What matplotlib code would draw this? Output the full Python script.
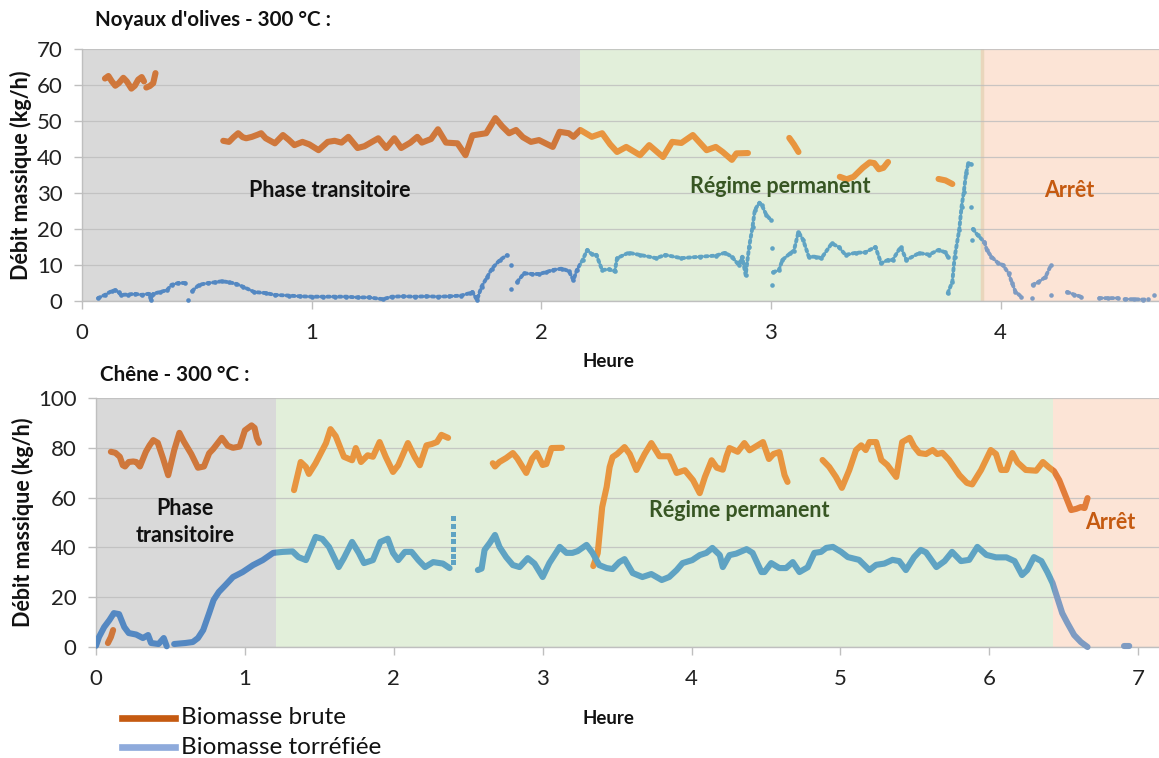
import numpy as np
import matplotlib
matplotlib.use("Agg")
import matplotlib.pyplot as plt
from matplotlib.patches import Rectangle
from matplotlib.lines import Line2D

plt.rcParams['font.family'] = ['Lato', 'DejaVu Sans']

nan = np.nan

# ---------------- Data: Noyaux d'olives ----------------
olive_brute_x = [0.10, nan,
                 0.10, 0.115, 0.13, 0.145, 0.16, 0.18, 0.195, 0.215, 0.23, 0.245, 0.26, 0.27, nan,
                 0.28, 0.295, 0.31, 0.32, nan,
                 0.615, 0.64, 0.66, 0.68, 0.70, 0.715, 0.74, 0.765, 0.78, 0.80, 0.84, 0.875, 0.90, 0.925,
                 0.96, 0.99, 1.03, 1.07, 1.10, 1.13, 1.16, 1.20, 1.23, 1.29, 1.325, 1.36, 1.39, 1.43, 1.46,
                 1.48, 1.52, 1.55, 1.585, 1.635, 1.67, 1.70, 1.76, 1.80, 1.83, 1.86, 1.89, 1.92, 1.955,
                 1.99, 2.05, 2.08, 2.12, 2.14, 2.17, 2.22, 2.265, 2.30, 2.33, 2.37, 2.43, 2.47, 2.53,
                 2.57, 2.61, 2.66, 2.72, 2.76, 2.79, 2.83, 2.85, 2.90, nan,
                 3.08, 3.10, 3.12, nan,
                 3.30, 3.33, 3.36, 3.40, 3.43, 3.45, 3.47, 3.49, 3.51, nan,
                 3.73, 3.76, 3.79]
olive_brute_y = [23.0, nan,
                 61.8, 62.5, 61.0, 59.8, 60.5, 62.0, 61.0, 59.0, 59.8, 61.5, 62.2, 61.0, nan,
                 59.3, 59.7, 60.5, 63.3, nan,
                 44.5, 44.2, 45.5, 46.6, 45.5, 45.2, 45.6, 46.2, 46.6, 45.2, 43.8, 46.1, 44.8, 43.3,
                 44.2, 43.5, 41.9, 44.2, 44.5, 44.0, 45.6, 42.5, 43.0, 45.2, 42.5, 45.2, 42.5, 44.0, 45.6,
                 44.0, 45.0, 47.7, 44.0, 43.8, 40.5, 46.0, 46.6, 50.8, 48.5, 46.6, 47.5, 45.5, 44.2,
                 44.7, 42.8, 47.0, 46.6, 45.6, 47.5, 45.6, 46.6, 43.5, 41.4, 42.8, 40.5, 43.3, 40.0,
                 44.2, 43.9, 46.1, 41.9, 42.8, 41.4, 39.2, 41.0, 41.1, nan,
                 45.3, 43.5, 41.4, nan,
                 34.5, 33.8, 34.5, 37.0, 38.5, 38.3, 36.6, 37.0, 38.6, nan,
                 33.9, 33.5, 32.5]

olive_torr_x = [0.07, 0.10, 0.13, 0.145, 0.16, 0.17, 0.20, 0.23, 0.26, 0.29, 0.30, 0.31, 0.34, 0.37,
                0.39, 0.42, 0.45, nan, 0.46, nan, 0.48, 0.51, 0.55, 0.58, 0.61, 0.64, 0.67, 0.70, 0.75,
                0.80, 0.84, 0.90, 0.95, 1.00, 1.05, 1.10, 1.15, 1.20, 1.25, 1.31, 1.35, 1.40, 1.45,
                1.50, 1.55, 1.60, 1.65, 1.69, 1.70, 1.72, 1.74, 1.765, 1.785, 1.82, 1.85, nan,
                1.87, nan, 1.87, nan,
                1.895, 1.925, 1.96, 1.99, 2.02, 2.05, 2.09, 2.12, 2.14, 2.155, 2.18, 2.20, 2.22, 2.24,
                2.265, 2.295, 2.32, 2.33, 2.38, 2.43, 2.50, 2.54, 2.61, 2.69, 2.76, 2.80, 2.83, 2.86,
                2.875, 2.89, 2.905, 2.92, 2.93, 2.95, 2.96, 2.98, 3.00, nan,
                3.005, nan, 3.005, nan,
                3.01, 3.035, 3.05, 3.085, 3.10, 3.12, 3.14, 3.165, 3.195, 3.22, 3.265, 3.295, 3.325,
                3.37, 3.41, 3.455, 3.48, 3.51, 3.53, 3.565, 3.59, 3.645, 3.69, 3.73, 3.76, 3.77, nan,
                3.77, 3.79, 3.80, 3.82, 3.83, 3.84, 3.85, 3.86, 3.87, nan,
                3.87, nan, 3.875, nan,
                3.88, 3.90, 3.93, 3.94, 3.96, 3.99, 4.01, 4.035, 4.05, 4.065, 4.09, nan,
                4.135, nan, 4.14, 4.165, 4.195, 4.22, nan, 4.22, nan,
                4.29, 4.32, 4.35, nan, 4.43, 4.47, 4.51, nan, 4.54, 4.58, 4.62, 4.64, nan, 4.67]
olive_torr_y = [0.8, 1.7, 2.8, 3.0, 2.4, 1.7, 1.8, 2.0, 1.7, 2.0, 0.4, 2.0, 2.5, 3.0,
                4.5, 5.0, 5.0, nan, 0.2, nan, 2.8, 4.5, 5.0, 5.2, 5.5, 5.2, 4.8, 4.0, 2.5,
                2.2, 1.7, 1.5, 1.3, 1.2, 1.2, 1.2, 1.2, 1.0, 1.0, 0.5, 1.2, 1.3, 1.2,
                1.3, 1.2, 1.3, 1.5, 2.2, 2.5, 0.3, 4.0, 6.7, 9.0, 11.4, 12.7, nan,
                10.0, nan, 3.3, nan,
                5.3, 7.7, 7.5, 7.5, 8.0, 8.6, 9.0, 8.3, 5.8, 8.6, 11.4, 14.2, 13.0, 12.8,
                8.6, 8.8, 8.2, 11.9, 13.4, 12.8, 11.9, 12.8, 11.9, 12.3, 12.6, 13.4, 12.3, 10.0,
                12.3, 7.2, 15.0, 20.6, 25.3, 27.3, 26.7, 23.9, 22.5, nan,
                14.7, nan, 4.4, nan,
                8.0, 8.6, 11.4, 13.3, 14.0, 19.2, 17.0, 12.3, 12.3, 11.9, 16.0, 15.0, 12.8,
                13.4, 13.5, 15.0, 10.5, 11.4, 11.4, 15.0, 11.4, 13.3, 12.9, 14.2, 13.5, 12.3, nan,
                2.2, 5.3, 12.2, 19.7, 26.1, 30.3, 35.5, 38.3, 38.0, nan,
                26.0, nan, 17.0, nan,
                20.0, 18.3, 16.4, 14.2, 12.3, 10.5, 10.0, 7.7, 5.0, 2.6, 1.2, nan,
                0.8, nan, 4.5, 5.3, 6.6, 10.0, nan, 1.6, nan,
                2.5, 1.8, 1.2, nan, 0.8, 0.8, 0.8, nan, 0.5, 0.5, 0.4, 0.5, nan, 1.6]

# ---------------- Data: Chêne ----------------
chene_brute_x = [0.08, 0.10, 0.115, nan,
                 0.10, 0.13, 0.16, 0.18, 0.195, 0.22, 0.25, 0.27, 0.295, 0.335, 0.36, 0.385, 0.415,
                 0.45, 0.485, 0.525, 0.56, 0.59, 0.64, 0.685, 0.725, 0.76, 0.787, 0.845, 0.885, 0.92,
                 0.965, 1.0, 1.045, 1.065, 1.08, 1.095, nan,
                 1.33, 1.375, 1.41, 1.43, 1.475, 1.545, 1.575, 1.61, 1.665, 1.72, 1.745, 1.78, 1.825,
                 1.86, 1.905, 1.945, 1.995, 2.03, 2.095, 2.14, 2.175, 2.22, 2.255, 2.29, 2.32, 2.365, nan,
                 2.545, nan,
                 2.665, 2.68, 2.71, 2.755, 2.80, 2.83, 2.89, 2.93, 2.96, 3.0, 3.025, 3.06, 3.13, nan,
                 3.34, 3.37, 3.39, 3.40, 3.43, 3.45, 3.47, 3.50, 3.55, 3.585, 3.63, 3.685, 3.73, 3.785,
                 3.85, 3.90, 3.955, 4.01, 4.055, 4.09, 4.135, 4.17, 4.21, 4.235, 4.255, 4.31, 4.355,
                 4.39, 4.445, 4.48, 4.52, 4.55, 4.59, 4.625, 4.645, nan,
                 4.88, 4.925, 4.97, 5.01, 5.06, 5.105, 5.14, 5.17, 5.195, 5.24, 5.275, 5.315, 5.375,
                 5.415, 5.465, 5.495, 5.53, 5.575, 5.62, 5.65, 5.685, 5.73, 5.80, 5.85, 5.885, 5.945,
                 6.01, 6.045, 6.08, 6.115, 6.155, 6.19, 6.245, 6.315, 6.36, 6.40, 6.435, 6.47, 6.515,
                 6.55, 6.585, 6.615, 6.64, 6.66]
chene_brute_y = [1.6, 4.0, 6.8, nan,
                 78.4, 78.0, 76.4, 73.0, 72.5, 74.3, 74.5, 74.3, 72.5, 78.4, 81.0, 83.1, 82.0,
                 75.8, 69.0, 79.0, 86.0, 82.5, 77.5, 72.0, 72.5, 77.8, 79.5, 84.0, 80.8, 80.0,
                 80.5, 87.0, 89.0, 88.0, 84.0, 82.0, nan,
                 63.0, 74.3, 72.3, 69.5, 73.8, 81.9, 87.5, 84.7, 76.4, 75.0, 79.9, 74.3, 77.0,
                 76.4, 82.3, 76.5, 70.3, 73.0, 81.9, 76.4, 73.0, 81.0, 81.5, 82.3, 85.2, 84.0, nan,
                 2.0, nan,
                 73.8, 72.5, 74.3, 75.9, 77.9, 75.7, 69.9, 75.7, 77.9, 73.1, 73.5, 79.9, 80.0, nan,
                 32.5, 37.7, 49.8, 56.2, 64.3, 72.3, 76.3, 77.5, 80.3, 77.5, 71.1, 77.5, 81.9, 76.6,
                 76.6, 69.9, 71.0, 67.0, 61.8, 68.3, 75.0, 72.0, 71.2, 76.6, 79.9, 78.4, 81.9,
                 79.0, 81.0, 82.3, 75.5, 77.5, 78.3, 69.0, 66.3, nan,
                 75.1, 72.3, 68.3, 63.9, 71.1, 79.1, 81.0, 79.1, 82.3, 82.3, 75.1, 73.1, 68.3,
                 82.3, 84.0, 80.5, 77.9, 77.5, 79.1, 77.5, 78.0, 75.1, 69.0, 65.9, 65.3, 71.1,
                 79.1, 77.5, 71.1, 71.1, 77.9, 74.1, 71.1, 70.8, 74.3, 72.2, 70.6, 67.0, 60.3,
                 55.0, 55.5, 56.2, 55.8, 59.8]

chene_torr_x = [0.0, 0.02, 0.055, 0.09, 0.12, 0.155, 0.19, 0.22, 0.27, 0.315, 0.35, 0.37, 0.42,
                0.455, 0.475, nan,
                0.525, 0.60, 0.65, 0.685, 0.72, 0.76, 0.79, 0.825, 0.87, 0.92, 0.985, 1.055, 1.12,
                1.19, 1.255, 1.32, 1.36, 1.41, 1.475, 1.52, 1.565, 1.63, 1.665, 1.72, 1.765, 1.80,
                1.86, 1.91, 1.96, 1.995, 2.03, 2.075, 2.12, 2.165, 2.21, 2.265, 2.33, 2.375, nan,
                2.565, 2.59, 2.61, 2.645, 2.68, 2.71, 2.755, 2.80, 2.845, 2.90, 2.945, 3.0, 3.045,
                3.115, 3.16, 3.20, 3.235, 3.295, 3.335, 3.38, 3.43, 3.47, 3.515, 3.55, 3.605, 3.67,
                3.73, 3.80, 3.85, 3.90, 3.94, 4.005, 4.055, 4.10, 4.14, 4.19, 4.21, 4.255, 4.30,
                4.37, 4.41, 4.47, 4.49, 4.535, 4.59, 4.635, 4.68, 4.725, 4.78, 4.825, 4.87, 4.905,
                4.95, 5.005, 5.05, 5.125, 5.195, 5.24, 5.295, 5.35, 5.395, 5.44, 5.495, 5.54, 5.575,
                5.645, 5.70, 5.75, 5.81, 5.865, 5.92, 5.98, 6.045, 6.115, 6.17, 6.22, 6.255, 6.30,
                6.35, 6.39, 6.425, 6.455, 6.49, 6.525, 6.57, 6.615, 6.66, nan,
                6.905, 6.94, nan, 7.05]
chene_torr_y = [0.5, 4.0, 8.0, 10.8, 13.6, 13.2, 8.0, 5.6, 5.0, 3.6, 4.8, 1.6, 1.2,
                3.6, 0.3, nan,
                1.2, 1.6, 2.0, 3.6, 6.8, 13.6, 18.9, 22.1, 24.9, 28.1, 30.1, 32.9, 34.9,
                37.8, 38.2, 38.4, 36.1, 34.9, 44.2, 43.4, 40.2, 32.1, 35.7, 42.2, 37.8, 33.7,
                34.9, 42.2, 43.5, 37.8, 34.9, 38.2, 38.2, 34.9, 32.1, 34.1, 33.5, 31.7, nan,
                30.9, 31.5, 39.0, 41.8, 45.0, 40.2, 36.1, 32.9, 32.1, 35.7, 33.5, 28.1, 33.7,
                40.2, 37.8, 37.8, 38.5, 41.0, 37.8, 32.9, 31.7, 31.3, 34.1, 35.3, 29.7, 28.1,
                29.3, 26.9, 28.1, 30.9, 33.7, 34.9, 36.9, 37.8, 39.8, 36.9, 32.1, 36.9, 37.5,
                39.3, 37.8, 30.1, 30.1, 33.7, 31.7, 31.7, 34.1, 30.1, 32.0, 37.8, 38.2, 39.8,
                40.2, 38.2, 36.1, 35.0, 30.9, 33.0, 33.5, 35.0, 34.5, 30.9, 36.1, 39.0, 38.0,
                32.1, 34.5, 38.2, 34.5, 35.0, 40.2, 37.0, 36.0, 36.0, 34.5, 28.9, 30.9, 36.1,
                34.5, 30.1, 25.7, 20.1, 13.6, 9.6, 4.8, 2.0, 0.0, nan,
                0.4, 0.4, nan, 0.4]

# isolated torrefied readings (sparse jump at ~2.4 h)
chene_torr_isol_x = [2.40, 2.40, 2.40, 2.40, 2.40, 2.40, 2.40]
chene_torr_isol_y = [51.8, 48.5, 45.5, 42.5, 39.5, 36.5, 34.1]

# phase boundaries (hours)
olive_phases = [0.0, 2.17, 3.92, 4.69]
chene_phases = [0.0, 1.21, 6.43, 7.14]

phase_bg = ['#D9D9D9', '#E2EFDA', '#FCE4D6']
brute_cols = ['#CF773B', '#E8953F', '#E27D3A']
torr_cols = ['#5488C2', '#5FA3C3', '#7E9BC2']

W, H = 1159, 758
fig = plt.figure(figsize=(W / 100, H / 100), dpi=100)


def fx(px):
    return px / W


def fy(py):
    return 1 - py / H


def draw_clipped(ax, x, y, phases, cols, **kw):
    for i, c in enumerate(cols):
        x0, x1 = phases[i], phases[i + 1]
        lines = ax.plot(x, y, color=c, **kw)
        rect = Rectangle((x0, -50), x1 - x0, 300, transform=ax.transData)
        for ln in lines:
            ln.set_clip_path(rect)


def style_axes(ax, ymax, ystep, xmax, phases, xticks):
    ax.set_xlim(0, xmax)
    ax.set_ylim(0, ymax)
    for i in range(3):
        ax.axvspan(phases[i], phases[i + 1], color=phase_bg[i], zorder=0, lw=0)
    ax.set_yticks(np.arange(0, ymax + 1, ystep))
    ax.set_xticks(xticks)
    ax.grid(axis='y', color='#BDBDBD', lw=0.9, alpha=0.8, zorder=1)
    ax.set_axisbelow(False)
    for s in ['top', 'right']:
        ax.spines[s].set_visible(False)
    for s in ['left', 'bottom']:
        ax.spines[s].set_color('#BFBFBF')
        ax.spines[s].set_linewidth(1.0)
    ax.tick_params(axis='both', colors='#BFBFBF', labelcolor='#222222', labelsize=16,
                   length=6, width=1.0, direction='out')
    ax.tick_params(axis='x', pad=10)
    ax.tick_params(axis='y', pad=8)
    ax.set_facecolor('white')


# ---------------- Top axes ----------------
ax1 = fig.add_axes([fx(82), fy(301), 1 - fx(82), fy(49) - fy(301)])
style_axes(ax1, 70, 10, 4.69, olive_phases, [0, 1, 2, 3, 4])
ax1.axvline(olive_phases[2], color='#E9D6BC', lw=2.5, zorder=1)
draw_clipped(ax1, olive_brute_x, olive_brute_y, olive_phases, brute_cols,
             lw=4.4, solid_capstyle='round', solid_joinstyle='round', zorder=3)
draw_clipped(ax1, olive_torr_x, olive_torr_y, olive_phases, torr_cols,
             lw=2.8, ls=(0, (0.6, 0.9)), dash_capstyle='round', marker='o', ms=3.3, mew=0, zorder=3)

ann_kw = dict(ha='center', va='center', fontsize=15.5, fontweight='bold', zorder=5)
ax1.text(1.08, 30.8, 'Phase transitoire', color='#111111', **ann_kw)
ax1.text(3.04, 31.7, 'Régime permanent', color='#375623', **ann_kw)
ax1.text(4.30, 30.8, 'Arrêt', color='#C55A11', **ann_kw)

# ---------------- Bottom axes ----------------
ax2 = fig.add_axes([fx(96), fy(647), 1 - fx(96), fy(398) - fy(647)])
style_axes(ax2, 100, 20, 7.14, chene_phases, [0, 1, 2, 3, 4, 5, 6, 7])
draw_clipped(ax2, chene_brute_x, chene_brute_y, chene_phases, brute_cols,
             lw=4.4, solid_capstyle='round', solid_joinstyle='round', zorder=3)
draw_clipped(ax2, chene_torr_x, chene_torr_y, chene_phases, torr_cols,
             lw=4.4, solid_capstyle='round', solid_joinstyle='round', zorder=3)
draw_clipped(ax2, chene_torr_isol_x, chene_torr_isol_y, chene_phases, torr_cols,
             ls='none', marker='s', ms=3.6, mew=0, zorder=3)

ax2.text(0.60, 50.2, 'Phase\ntransitoire', color='#111111', linespacing=1.35, **ann_kw)
ax2.text(4.32, 55.0, 'Régime permanent', color='#375623', **ann_kw)
ax2.text(6.81, 50.2, 'Arrêt', color='#C55A11', **ann_kw)

# ---------------- Figure texts ----------------
fig.text(fx(95), fy(20), "Noyaux d'olives - 300 °C :", ha='left', va='center',
         fontsize=14.8, fontweight='bold', color='#111111')
fig.text(fx(100), fy(375), "Chêne - 300 °C :", ha='left', va='center',
         fontsize=14.8, fontweight='bold', color='#111111')
fig.text(fx(608), fy(362), 'Heure', ha='center', va='center', fontsize=13.5,
         fontweight='bold', color='#111111')
fig.text(fx(608), fy(718), 'Heure', ha='center', va='center', fontsize=13.5,
         fontweight='bold', color='#111111')
fig.text(fx(21), fy(175), 'Débit massique (kg/h)', ha='center', va='center', rotation=90,
         fontsize=15.5, fontweight='bold', color='#111111')
fig.text(fx(23), fy(522), 'Débit massique (kg/h)', ha='center', va='center', rotation=90,
         fontsize=15.5, fontweight='bold', color='#111111')

# legend
fig.add_artist(Line2D([fx(122), fx(175)], [fy(718), fy(718)], color='#C55A11', lw=4.8,
                      transform=fig.transFigure))
fig.add_artist(Line2D([fx(122), fx(175)], [fy(747), fy(747)], color='#8EAADB', lw=4.8,
                      transform=fig.transFigure))
fig.text(fx(181), fy(718), 'Biomasse brute', ha='left', va='center', fontsize=17.5, color='#111111')
fig.text(fx(181), fy(747), 'Biomasse torréfiée', ha='left', va='center', fontsize=17.5, color='#111111')

fig.savefig('out.png', dpi=100)
